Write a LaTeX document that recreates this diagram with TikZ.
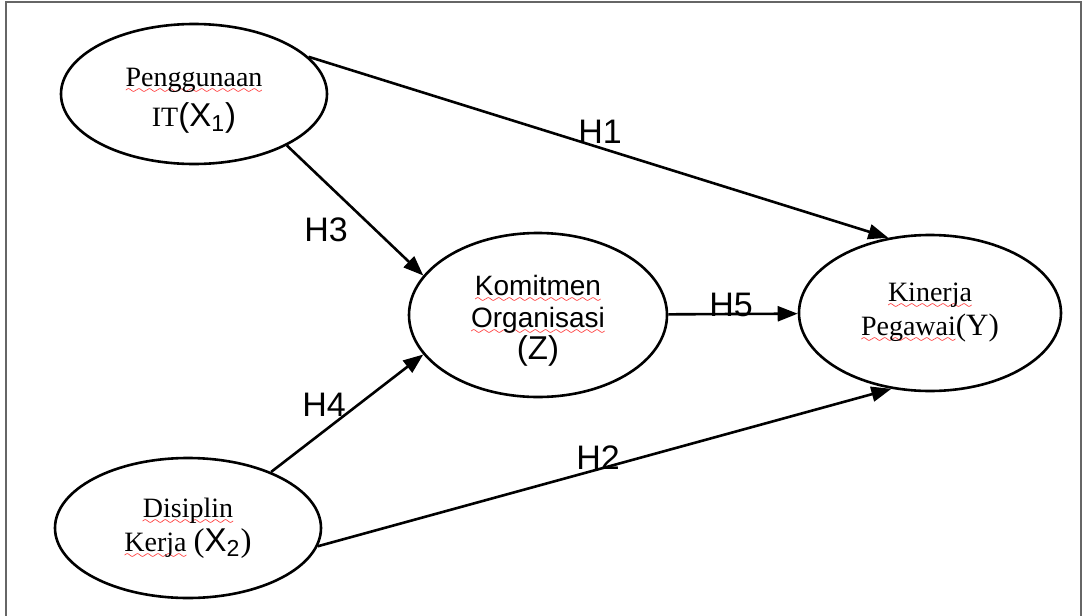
\documentclass[tikz,border=0pt]{standalone}
\usepackage{fontspec}
\setmainfont{Liberation Serif}
\setsansfont{Liberation Sans}
\usetikzlibrary{arrows.meta,shapes.geometric}
\font\squigfont=lasy6
\newcommand{\spellmark}[1]{\leavevmode\setbox0\hbox{#1}%
  \rlap{\lower3.5pt\hbox to\wd0{\color{red}\xleaders\hbox{\squigfont\char58}\hfil}}\box0}
\newcommand{\bigsf}{\sffamily\fontsize{16.5}{19}\selectfont}
\tikzset{
  var/.style={draw, ellipse, line width=1.3pt, align=center, inner sep=0pt,
    font=\fontsize{14}{17}\selectfont},
  hyp/.style={font=\sffamily\fontsize{17}{20}\selectfont, inner sep=1pt},
  frame/.style={draw=black!60, line width=1pt},
}
\begin{document}
\begin{tikzpicture}[x=0.5pt, y=-0.5pt, line width=1.3pt,
    >={Triangle[length=10pt,width=7.5pt]}]
      \useasboundingbox (0,0) rectangle (1083,616);
      \draw[frame] (6,616) -- (6,2) -- (1081,2) -- (1081,616);
      \node[var, minimum width=133pt, minimum height=70pt] (X1) at (194,94)
        {\rule{0pt}{16pt}\spellmark{Penggunaan}\\[3pt] IT{\bigsf(X\textsubscript{1})}};
      \node[var, minimum width=133pt, minimum height=70pt] (X2) at (188,528)
        {\spellmark{Disiplin}\\ \spellmark{Kerja}\ {\fontsize{16.5}{19}\selectfont(}{\bigsf X\textsubscript{2}}{\fontsize{16.5}{19}\selectfont)}};
      \node[var, minimum width=129pt, minimum height=82pt, font=\sffamily\fontsize{14}{16}\selectfont] (Z) at (538,315)
        {\rule{0pt}{16pt}\spellmark{Komitmen}\\ \spellmark{Organisasi}\\ {\bigsf(Z)}};
      \node[var, minimum width=131pt, minimum height=78pt] (Y) at (930,313)
        {\spellmark{Kinerja}\\ \spellmark{Pegawai}{\fontsize{15.5}{18}\selectfont(Y)}};
      \node[hyp] (H1) at (600,132) {H1};
      \node[hyp] (H2) at (598,458) {H2};
      \node[hyp] (H3) at (326,230) {H3};
      \node[hyp] (H4) at (324,405) {H4};
      \node[hyp] (H5) at (731,305) {H5};
      \draw[->] (X1.18.6) to (Y.119.6);
      \draw[->] (X2.-8.9) to (Y.-117.7);
      \draw[->] (X1.-29) to (Z.161);
      \draw[->] (X2.34.6) to (Z.-161);
      \draw[->] (Z) to (Y);
\end{tikzpicture}
\end{document}
